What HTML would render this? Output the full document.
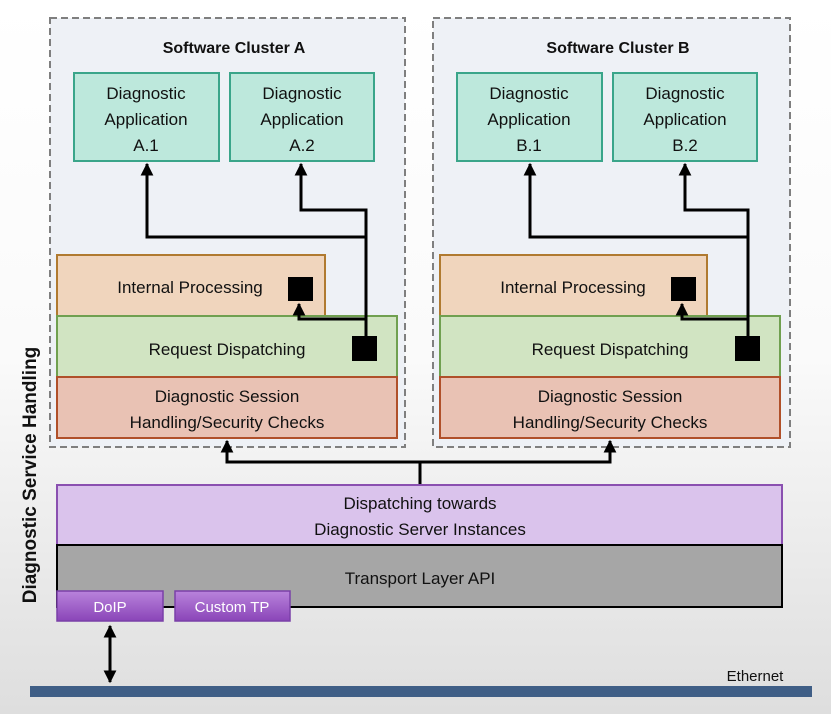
<!DOCTYPE html>
<html><head><meta charset="utf-8"><style>
html,body{margin:0;padding:0;width:831px;height:714px;overflow:hidden}
svg{display:block}
text{font-family:"Liberation Sans",sans-serif;font-size:17px;fill:#111}
</style></head><body>
<svg width="831" height="714" viewBox="0 0 831 714" xmlns="http://www.w3.org/2000/svg">
<defs>
<linearGradient id="bg" x1="0" y1="0" x2="0" y2="1"><stop offset="0" stop-color="#ffffff"/><stop offset="0.5" stop-color="#fafafa"/><stop offset="1" stop-color="#dedede"/></linearGradient>
<linearGradient id="pu" x1="0" y1="0" x2="0" y2="1"><stop offset="0" stop-color="#b983dc"/><stop offset="1" stop-color="#8a45b8"/></linearGradient>
<marker id="ah" viewBox="0 0 10 10" refX="9" refY="5" markerWidth="4.3" markerHeight="4.3" orient="auto-start-reverse"><path d="M0,0 L10,5 L0,10z" fill="#000"/></marker>
</defs>
<rect width="831" height="714" fill="url(#bg)"/>
<g id="A">
<rect x="50" y="18" width="355" height="429" fill="#eef1f6" stroke="#7f7f7f" stroke-width="2" stroke-dasharray="7,4"/>
<text x="234" y="53" text-anchor="middle" font-weight="bold" style="font-size:16px">Software Cluster A</text>
<rect x="74" y="73" width="145" height="88" fill="#bde8dc" stroke="#3aa58a" stroke-width="2"/>
<text text-anchor="middle"><tspan x="146" y="99">Diagnostic</tspan><tspan x="146" y="125">Application</tspan><tspan x="146" y="151">A.1</tspan></text>
<rect x="230" y="73" width="144" height="88" fill="#bde8dc" stroke="#3aa58a" stroke-width="2"/>
<text text-anchor="middle"><tspan x="302" y="99">Diagnostic</tspan><tspan x="302" y="125">Application</tspan><tspan x="302" y="151">A.2</tspan></text>
<rect x="57" y="255" width="268" height="61" fill="#f0d5bd" stroke="#b07a30" stroke-width="2"/>
<text x="190" y="293" text-anchor="middle">Internal Processing</text>
<rect x="57" y="316" width="340" height="61" fill="#d1e4c2" stroke="#70a050" stroke-width="2"/>
<text x="227" y="355" text-anchor="middle">Request Dispatching</text>
<rect x="57" y="377" width="340" height="61" fill="#e9c2b4" stroke="#b0502a" stroke-width="2"/>
<text text-anchor="middle"><tspan x="227" y="402">Diagnostic Session</tspan><tspan x="227" y="428">Handling/Security Checks</tspan></text>
<rect x="288" y="277" width="25" height="24" fill="#000"/>
<rect x="352" y="336" width="25" height="25" fill="#000"/>
<path d="M366,340 V237 H147 V164" fill="none" stroke="#000" stroke-width="3" marker-end="url(#ah)"/>
<path d="M366,240 V210 H301 V164" fill="none" stroke="#000" stroke-width="3" marker-end="url(#ah)"/>
<path d="M366,319 H299 V304" fill="none" stroke="#000" stroke-width="3" marker-end="url(#ah)"/>
</g>
<g transform="translate(383,0)">
<rect x="50" y="18" width="357" height="429" fill="#eef1f6" stroke="#7f7f7f" stroke-width="2" stroke-dasharray="7,4"/>
<text x="235" y="53" text-anchor="middle" font-weight="bold" style="font-size:16px">Software Cluster B</text>
<rect x="74" y="73" width="145" height="88" fill="#bde8dc" stroke="#3aa58a" stroke-width="2"/>
<text text-anchor="middle"><tspan x="146" y="99">Diagnostic</tspan><tspan x="146" y="125">Application</tspan><tspan x="146" y="151">B.1</tspan></text>
<rect x="230" y="73" width="144" height="88" fill="#bde8dc" stroke="#3aa58a" stroke-width="2"/>
<text text-anchor="middle"><tspan x="302" y="99">Diagnostic</tspan><tspan x="302" y="125">Application</tspan><tspan x="302" y="151">B.2</tspan></text>
<rect x="57" y="255" width="267" height="61" fill="#f0d5bd" stroke="#b07a30" stroke-width="2"/>
<text x="190" y="293" text-anchor="middle">Internal Processing</text>
<rect x="57" y="316" width="340" height="61" fill="#d1e4c2" stroke="#70a050" stroke-width="2"/>
<text x="227" y="355" text-anchor="middle">Request Dispatching</text>
<rect x="57" y="377" width="340" height="61" fill="#e9c2b4" stroke="#b0502a" stroke-width="2"/>
<text text-anchor="middle"><tspan x="227" y="402">Diagnostic Session</tspan><tspan x="227" y="428">Handling/Security Checks</tspan></text>
<rect x="288" y="277" width="25" height="24" fill="#000"/>
<rect x="352" y="336" width="25" height="25" fill="#000"/>
<path d="M365,340 V237 H147 V164" fill="none" stroke="#000" stroke-width="3" marker-end="url(#ah)"/>
<path d="M365,240 V210 H302 V164" fill="none" stroke="#000" stroke-width="3" marker-end="url(#ah)"/>
<path d="M365,319 H299 V304" fill="none" stroke="#000" stroke-width="3" marker-end="url(#ah)"/>
</g>
<path d="M420,485 V462 M227,441 V462 H610 V441" fill="none" stroke="#000" stroke-width="3"/>
<path d="M227,462 V441" stroke="#000" stroke-width="3" marker-end="url(#ah)"/>
<path d="M610,462 V441" stroke="#000" stroke-width="3" marker-end="url(#ah)"/>
<rect x="57" y="485" width="725" height="60" fill="#dac3ec" stroke="#8a50b0" stroke-width="2"/>
<text text-anchor="middle"><tspan x="420" y="509">Dispatching towards</tspan><tspan x="420" y="535">Diagnostic Server Instances</tspan></text>
<rect x="57" y="545" width="725" height="62" fill="#a6a6a6" stroke="#000" stroke-width="2"/>
<text x="420" y="584" text-anchor="middle">Transport Layer API</text>
<rect x="57" y="591" width="106" height="30" fill="url(#pu)" stroke="#7a40a8" stroke-width="1.5"/>
<text x="110" y="612" text-anchor="middle" style="font-size:15px;fill:#fff">DoIP</text>
<rect x="175" y="591" width="115" height="30" fill="url(#pu)" stroke="#7a40a8" stroke-width="1.5"/>
<text x="232" y="612" text-anchor="middle" style="font-size:15px;fill:#fff">Custom TP</text>
<path d="M110,626 V682" stroke="#000" stroke-width="3" marker-start="url(#ah)" marker-end="url(#ah)"/>
<rect x="30" y="686" width="782" height="11" fill="#3f5e86"/>
<text x="755" y="681" text-anchor="middle" style="font-size:15px">Ethernet</text>
<text transform="translate(36,475) rotate(-90)" text-anchor="middle" font-weight="bold" style="font-size:19px">Diagnostic Service Handling</text>
</svg>
</body></html>
